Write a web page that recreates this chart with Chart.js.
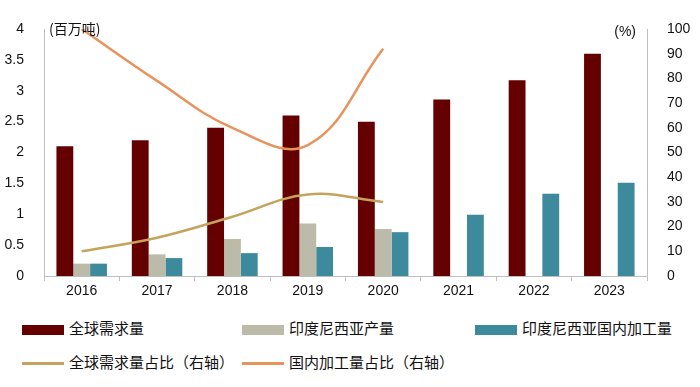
<!DOCTYPE html>
<html>
<head>
<meta charset="utf-8">
<script src="https://cdn.jsdelivr.net/npm/chart.js@4"></script>
<style>
  body { margin: 0; background: #fff; }
  #wrap { position: relative; width: 700px; height: 387px; }
  #cv { position: absolute; left: 0; top: 0; }
  .lg { position: absolute; font: 15px "Noto Sans CJK SC", sans-serif; color: #111; white-space: nowrap; line-height: 16px; }
  .lg i { display: inline-block; width: 42px; vertical-align: middle; margin-right: 5px; }
</style>
</head>
<body>
<div id="wrap">
  <canvas id="cv" width="700" height="300"></canvas>
  <div id="legend"></div>
</div>
<script>
var years = ["2016", "2017", "2018", "2019", "2020", "2021", "2022", "2023"];
var globalDemand = [2.1, 2.2, 2.4, 2.6, 2.5, 2.86, 3.17, 3.6];
var indoOutput = [0.2, 0.35, 0.6, 0.85, 0.76, null, null, null];
var indoProcess = [0.2, 0.29, 0.37, 0.47, 0.71, 0.99, 1.33, 1.51];
var demandShare = [10, 15.5, 24, 33, 30, null, null, null];
var processShare = [100, 79, 60, 53, 92, null, null, null];

var unitLabels = {
  id: "unitLabels",
  afterDraw: function (chart) {
    var c = chart.ctx, a = chart.chartArea;
    c.save();
    c.fillStyle = "#111";
    c.font = "14px 'Noto Sans CJK SC', sans-serif";
    c.textBaseline = "middle";
    c.textAlign = "left";
    c.fillText("(百万吨)", a.left + 5, a.top);
    c.font = "14px 'Liberation Sans', sans-serif";
    c.textAlign = "right";
    c.fillText("(%)", a.right - 11, a.top + 3);
    c.restore();
  }
};

var tickFont = { family: "'Liberation Sans', Arial", size: 14 };

var ctx = document.getElementById("cv").getContext("2d");
var chart = new Chart(ctx, {
  type: "bar",
  data: {
    labels: years,
    datasets: [
      { label: "全球需求量", data: globalDemand, backgroundColor: "#650000", yAxisID: "y", order: 2 },
      { label: "印度尼西亚产量", data: indoOutput, backgroundColor: "#bcbaa8", yAxisID: "y", order: 2 },
      { label: "印度尼西亚国内加工量", data: indoProcess, backgroundColor: "#3d8a9c", yAxisID: "y", order: 2 },
      { type: "line", label: "全球需求量占比（右轴）", data: demandShare, borderColor: "#c6a35c", borderWidth: 2.5,
        pointRadius: 0, tension: 0.4, fill: false, yAxisID: "y1", order: 0 },
      { type: "line", label: "国内加工量占比（右轴）", data: processShare, borderColor: "#e8935c", borderWidth: 2.5,
        pointRadius: 0, tension: 0.4, fill: false, yAxisID: "y1", order: 0 }
    ]
  },
  options: {
    responsive: false,
    animation: false,
    layout: { padding: { top: 29, right: 0, left: 0, bottom: 0 } },
    datasets: { bar: { categoryPercentage: 0.67, barPercentage: 1 } },
    plugins: { legend: { display: false }, tooltip: { enabled: false } },
    scales: {
      x: {
        grid: { offset: true, drawOnChartArea: false, drawTicks: true, tickLength: 5, color: "#bfbfbf" },
        border: { color: "#bfbfbf" },
        ticks: { color: "#111", font: tickFont, padding: 2 },
        afterFit: function (s) { s.height = 24; }
      },
      y: {
        position: "left", min: 0, max: 4,
        grid: { display: false },
        border: { color: "#bfbfbf" },
        ticks: { stepSize: 0.5, color: "#111", font: tickFont, padding: 12,
          callback: function (v) { return String(v); } },
        afterFit: function (s) { s.width = 44; }
      },
      y1: {
        position: "right", min: 0, max: 100,
        grid: { display: false },
        border: { color: "#bfbfbf" },
        ticks: { stepSize: 10, color: "#111", font: tickFont, padding: 12 },
        afterFit: function (s) { s.width = 53; }
      }
    }
  },
  plugins: [unitLabels]
});

// legend laid out like the reference: three columns, two rows
var slots = [[22, 320], [242, 320], [475, 320], [22, 354], [242, 354]];
var html = "";
chart.data.datasets.forEach(function (ds, i) {
  var isLine = ds.type === "line";
  var sw = isLine
    ? '<i style="height:3px;background:' + ds.borderColor + '"></i>'
    : '<i style="height:10px;background:' + ds.backgroundColor + '"></i>';
  html += '<div class="lg" style="left:' + slots[i][0] + 'px;top:' + slots[i][1] + 'px">' + sw + ds.label + '</div>';
});
document.getElementById("legend").innerHTML = html;
</script>
</body>
</html>
